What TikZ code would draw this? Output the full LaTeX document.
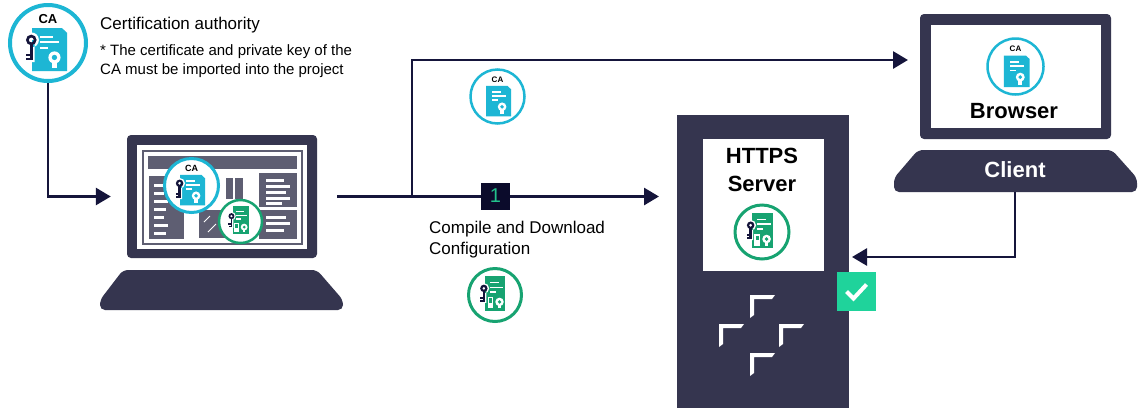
\documentclass[tikz,border=0pt]{standalone}
\usepackage{fontspec}
\setmainfont{Liberation Sans}
\usetikzlibrary{arrows.meta}

\definecolor{navy}{HTML}{15153B}
\definecolor{slate}{HTML}{35354F}
\definecolor{cacyan}{HTML}{1DB6D4}
\definecolor{srvgreen}{HTML}{17A371}
\definecolor{okgreen}{HTML}{1FD39B}
\definecolor{uigrey}{HTML}{5E5E72}
\definecolor{stepbg}{HTML}{0B0B2B}
\definecolor{stepnum}{HTML}{22C28C}

\tikzset{
  flow/.style={draw=navy, line width=2.8pt, -{Triangle[length=15pt,width=17pt]}},
  ring/.style={circle, draw=#1, fill=white, inner sep=0pt},
  panel/.style={fill=slate, draw=none, inner sep=0pt, rounded corners=4pt},
  window/.style={fill=white, draw=none, inner sep=0pt},
  txt/.style={inner sep=0pt, anchor=base west, font=\fontsize{17}{20}\selectfont},
  notetxt/.style={inner sep=0pt, anchor=base west, font=\fontsize{15}{18}\selectfont},
  headtxt/.style={inner sep=0pt, anchor=base, font=\bfseries\fontsize{22}{24}\selectfont},
}

% key glyph: ring centre (#1,#2), shaft length #3 (unit = icon radius)
\newcommand{\certkey}[3]{%
  \begin{scope}[shift={(#1,#2)}]
    \fill[white] (0,0) circle (0.2) (-0.1,0) rectangle (0.09,#3+0.05)
                 (-0.21,#3-0.22) rectangle (0,#3+0.05);
    \fill[navy, even odd rule] (0,0) circle (0.14) (0,0) circle (0.065);
    \fill[navy] (-0.045,0.1) rectangle (0.045,#3);
    \fill[navy] (-0.15,#3-0.17) rectangle (-0.045,#3-0.1);
    \fill[navy] (-0.13,#3-0.06) rectangle (-0.045,#3);
  \end{scope}}

% CA certificate sheet with seal
\newcommand{\cadoc}{%
  \fill[cacyan] (-0.42,-0.39) -- (0.37,-0.39) -- (0.5,-0.27) -- (0.5,0.74) -- (-0.42,0.74) -- cycle;
  \fill[white] (-0.2,-0.19) rectangle (0.14,-0.14);
  \fill[white] (-0.2,-0.04) rectangle (0.3,0.01);
  \fill[white] (-0.2,0.11) rectangle (0.0,0.16);
  \fill[white] (0.1,0.45) rectangle (0.24,0.65);
  \fill[white] (0.17,0.38) circle (0.16);
  \fill[cacyan] (0.17,0.38) circle (0.07);}

% server certificate sheet with seal and card
\newcommand{\srvdoc}{%
  \fill[srvgreen] (-0.37,-0.7) rectangle (0.39,0.6);
  \fill[white] (-0.19,-0.5) rectangle (0.15,-0.45);
  \fill[white] (-0.19,-0.32) rectangle (0.32,-0.27);
  \fill[white] (-0.19,-0.14) rectangle (0.03,-0.09);
  \fill[white] (-0.28,0.09) rectangle (-0.08,0.5);
  \fill[srvgreen] (-0.24,0.13) rectangle (-0.12,0.3);
  \fill[white] (0.11,0.3) rectangle (0.23,0.5);
  \fill[white] (0.17,0.26) circle (0.16);
  \fill[srvgreen] (0.17,0.26) circle (0.07);}

% name, centre, radius, stroke, label size, key (1/0)
\newcommand{\caicon}[6]{%
  \node[ring=cacyan, line width=#4pt, minimum size={2*#3pt}] (#1) at (#2) {};
  \begin{scope}[shift={(#1.center)}, x=#3pt, y=-#3pt]
    \cadoc
    \node[inner sep=0pt, font=\bfseries\fontsize{#5}{#5}\selectfont] (#1-label) at (0,-0.62) {CA};
    \ifnum#6=1 \certkey{-0.44}{-0.08}{0.53}\fi
  \end{scope}}

% name, centre, radius, stroke
\newcommand{\srvicon}[4]{%
  \node[ring=srvgreen, line width=#4pt, minimum size={2*#3pt}] (#1) at (#2) {};
  \begin{scope}[shift={(#1.center)}, x=#3pt, y=-#3pt]
    \srvdoc
    \certkey{-0.42}{-0.25}{0.5}
  \end{scope}}

% one white corner mark of the server emblem
\newcommand{\srvcorner}[2]{%
  \fill[white] (#1-2,#2+21) -- (#1-2,#2-2) -- (#1+23,#2-2) -- (#1+20,#2+2)
               -- (#1+2,#2+2) -- (#1+2,#2+18) -- cycle;}

\begin{document}
\begin{tikzpicture}[x=1pt, y=-1pt]
  \useasboundingbox (0,0) rectangle (1139,408);
  \fill[white] (0,0) rectangle (1139,408);

  % ---------- engineering laptop ----------
  \node[panel, minimum width=190pt, minimum height=123pt] (lap) at (222,196.5) {};
  \node[window, minimum width=170pt, minimum height=104pt] (lapwin) at (222,197) {};
  \draw[uigrey, line width=2pt] (143,151) rectangle (302,244);
  \fill[uigrey] (148,156) rectangle (297,169);
  \fill[uigrey] (149,176) rectangle (184,239);
  \foreach \yy/\ll in {184/14,192/10,200/14,208/12,216/10,224/14,232/12}
    \fill[white] (154,\yy) rectangle (154+\ll,\yy+2.5);
  \fill[uigrey] (259,173) rectangle (297,207);
  \foreach \yy/\ll in {179/18,185/24,191/20,197/24,202/16}
    \fill[white] (266,\yy) rectangle (266+\ll,\yy+2.5);
  \fill[uigrey] (259,210) rectangle (297,239);
  \foreach \yy/\ll in {216/20,222/24,229/18}
    \fill[white] (266,\yy) rectangle (266+\ll,\yy+2.5);
  \fill[uigrey] (226,178) rectangle (233,199);
  \fill[uigrey] (235,178) rectangle (243,199);
  \fill[uigrey] (199,210) rectangle (226,238);
  \draw[white, line width=1pt] (204,222) -- (210,216) (208,232) -- (216,224);
  \fill[slate, rounded corners=5pt] (123,270) -- (317,270) -- (343,300) -- (343,310)
        -- (100,310) -- (100,300) -- cycle;
  \caicon{lapca}{191.5,185.5}{27}{3}{9}{1}
  \srvicon{lapsrv}{240.5,221.5}{21.5}{2.5}

  % ---------- certification authority ----------
  \caicon{ca}{48,43}{38}{4}{13}{1}
  \node[txt] (catitle) at (100,29) {Certification authority};
  \node[notetxt] (canote1) at (100,55) {* The certificate and private key of the};
  \node[notetxt] (canote2) at (100,74) {CA must be imported into the project};

  % ---------- HTTPS server ----------
  \node[fill=slate, inner sep=0pt, minimum width=172pt, minimum height=293pt] (srv) at (763,261.5) {};
  \node[window, minimum width=121pt, minimum height=132pt] (srvwin) at (763.5,205) {};
  \node[headtxt] (srvt1) at (762,163) {HTTPS};
  \node[headtxt] (srvt2) at (762,191) {Server};
  \srvicon{srvcert}{762,232}{27}{3}
  \srvcorner{752}{297}
  \srvcorner{721}{326}
  \srvcorner{781}{326}
  \srvcorner{752}{355}
  \node[fill=okgreen, inner sep=0pt, minimum size=39pt] (ok) at (856.5,291.5) {};
  \draw[white, line width=4pt] ([shift={(-10,0)}]ok.center) -- ++(7,7) -- ++(13,-14);

  % ---------- client laptop ----------
  \node[panel, minimum width=191pt, minimum height=125pt] (brscr) at (1015.5,76.5) {};
  \node[window, minimum width=170pt, minimum height=103pt] (brwin) at (1016,76.5) {};
  \caicon{brca}{1015.5,66.5}{28}{2.5}{8}{0}
  \node[headtxt] (brt) at (1014,118) {Browser};
  \fill[slate, rounded corners=5pt] (918,150) -- (1112,150) -- (1137,178) -- (1137,192)
        -- (894,192) -- (894,178) -- cycle;
  \node[headtxt, text=white] (clt) at (1015,177) {Client};

  % ---------- connectors ----------
  \coordinate (split) at (412,196.5);
  \coordinate (srvin) at (659,196.5);
  \coordinate (brin) at (908,60);
  \coordinate (clientfoot) at (1015,192);
  \coordinate (srvback) at (852,257);
  \draw[flow] (ca.south) |- ([xshift=-16pt]lap.west);
  \draw[flow] ([xshift=20pt]lap.east) -- (srvin);
  \draw[flow] (split) |- (brin);
  \draw[flow] (clientfoot) |- (srvback);

  % ---------- step 1 ----------
  \node[fill=stepbg, inner sep=0pt, minimum width=29pt, minimum height=27pt, text=stepnum,
        font=\fontsize{20}{20}\selectfont] (step1) at (495.5,196) {1};
  \node[txt] (step1a) at (429,233) {Compile and Download};
  \node[txt] (step1b) at (429,254) {Configuration};
  \caicon{midca}{497.5,96.5}{27}{2.5}{8}{0}
  \srvicon{midsrv}{495,295}{26.5}{3}
\end{tikzpicture}
\end{document}
